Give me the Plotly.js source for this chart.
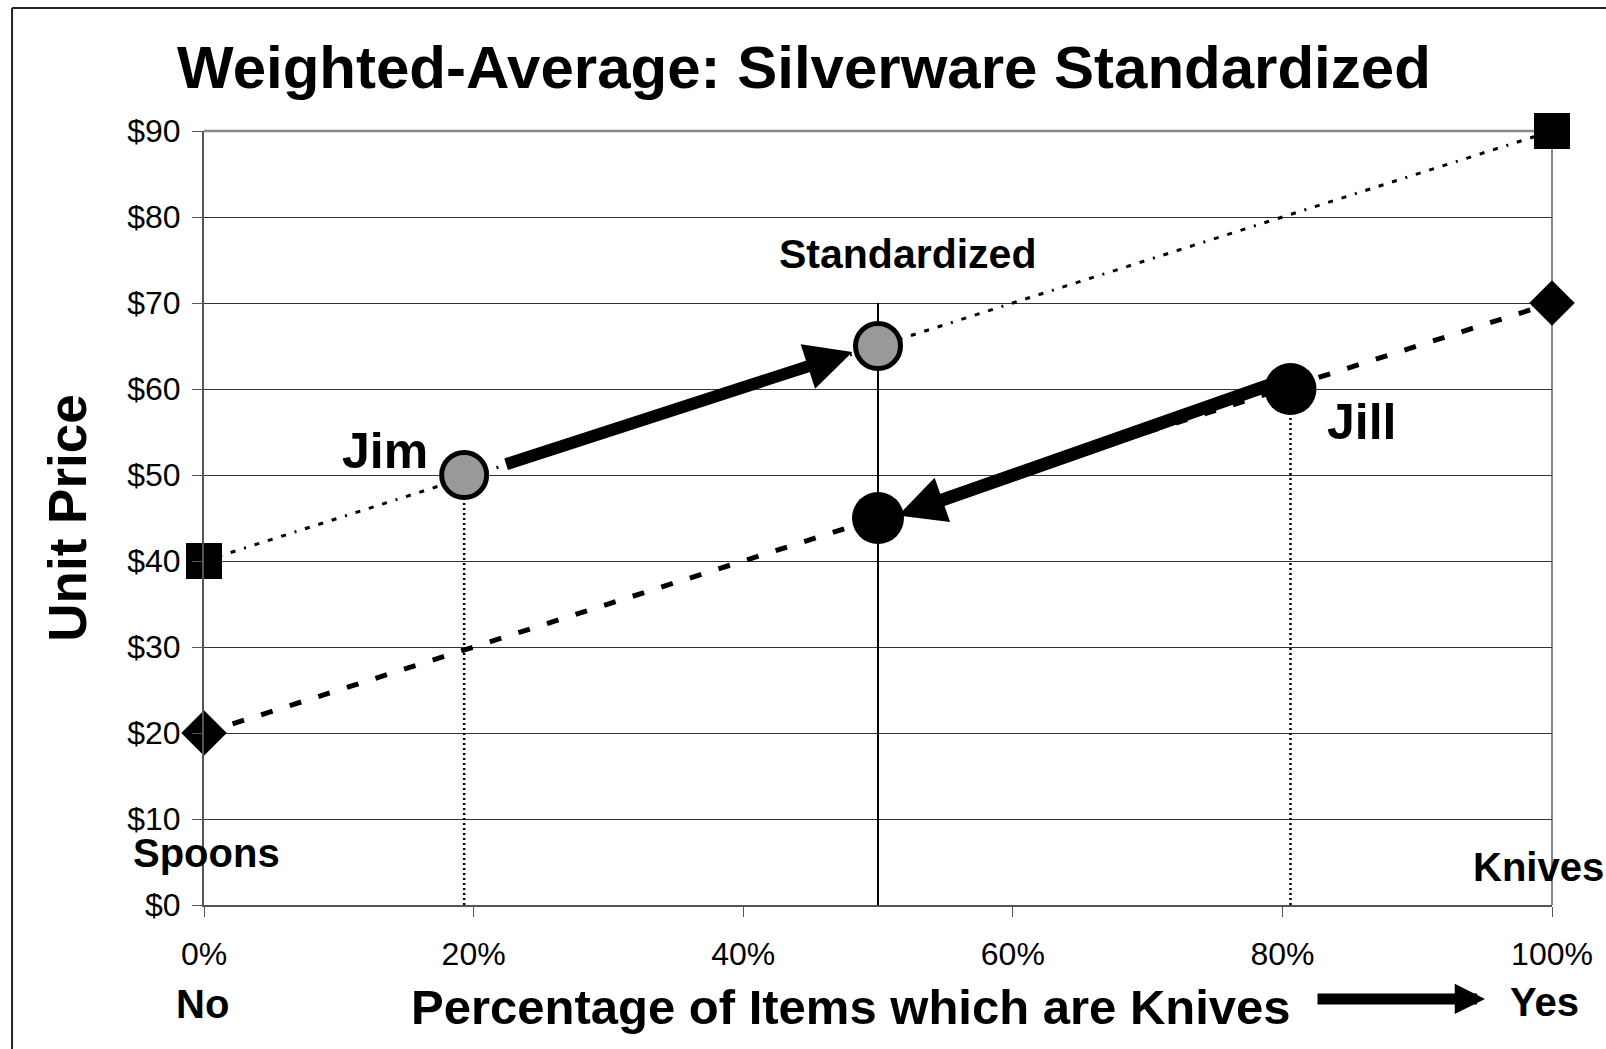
<!DOCTYPE html>
<html>
<head>
<meta charset="utf-8">
<script src="https://cdn.plot.ly/plotly-3.0.1.min.js"></script>
<style>html,body{margin:0;padding:0;background:#fff;}#chart{width:1606px;height:1049px;}</style>
</head>
<body>
<div id="chart"></div>
<script>
// ---- data ----
const endPct = [0, 1];                 // share of items that are knives at the two ends
const upperPrice = [40, 90];           // upper line (squares)
const lowerPrice = [20, 70];           // lower line (diamonds)
const personNames = ['Jim', 'Jill'];
const personPct = [0.193, 0.806];
const personPrice = [50, 60];
const standardPct = [0.5, 0.5];
const standardPrice = [65, 45];        // gray (upper) and black (lower) standardized points
const standardLine = [0, 70];
const xTickVals = [0, 0.2, 0.4, 0.6, 0.8, 1];
const xTickText = ['0%', '20%', '40%', '60%', '80%', '100%'];
const yTickVals = [0, 10, 20, 30, 40, 50, 60, 70, 80, 90];
const yTickText = ['$0', '$10', '$20', '$30', '$40', '$50', '$60', '$70', '$80', '$90'];

const FONT = 'Liberation Sans, Arial, Helvetica, sans-serif';

const traces = [
  // upper dotted line with squares
  {x: endPct, y: upperPrice, mode: 'lines+markers', cliponaxis: false, showlegend: false,
   line: {color: '#000', width: 3, dash: '5px,9px,5px,9px,5px,9px,2px,9px'},
   marker: {symbol: 'square', size: 36, color: '#000'}},
  // lower dashed line with diamonds
  {x: endPct, y: lowerPrice, mode: 'lines+markers', cliponaxis: false, showlegend: false,
   line: {color: '#000', width: 5, dash: '12px,18px'},
   marker: {symbol: 'diamond', size: 35, color: '#000'}},
  // standardized vertical line
  {x: standardPct, y: standardLine, mode: 'lines', showlegend: false,
   line: {color: '#000', width: 2}},
  // dotted drop lines for Jim and Jill
  {x: [personPct[0], personPct[0]], y: [0, personPrice[0]], mode: 'lines', showlegend: false,
   line: {color: '#000', width: 2.5, dash: '2px,3px'}},
  {x: [personPct[1], personPct[1]], y: [0, personPrice[1]], mode: 'lines', showlegend: false,
   line: {color: '#000', width: 2.5, dash: '2px,3px'}},
  // gray circles: Jim and standardized upper
  {x: [personPct[0], standardPct[0]], y: [personPrice[0], standardPrice[0]], mode: 'markers', showlegend: false,
   marker: {symbol: 'circle', size: 45, color: '#999999', line: {color: '#000', width: 5}}},
  // black circles: Jill and standardized lower
  {x: [personPct[1], standardPct[1]], y: [personPrice[1], standardPrice[1]], mode: 'markers', showlegend: false,
   marker: {symbol: 'circle', size: 52, color: '#000'}}
];

const textFont = (s) => ({family: FONT, size: s, color: '#000', weight: 'bold'});
const lbl = (x, y, xref, yref, text, size) => ({x: x, y: y, xref: xref, yref: yref, text: text, showarrow: false,
  xanchor: 'center', yanchor: 'middle', font: textFont(size)});

const annotations = [
  // arrows
  {x: 0.481, y: 64.3, ax: 0.223, ay: 51.2, xref: 'x', yref: 'y', axref: 'x', ayref: 'y', text: '',
   showarrow: true, arrowhead: 2, arrowsize: 0.78, arrowwidth: 12, arrowcolor: '#000'},
  {x: 0.515, y: 45.3, ax: 0.80, ay: 61.0, xref: 'x', yref: 'y', axref: 'x', ayref: 'y', text: '',
   showarrow: true, arrowhead: 2, arrowsize: 0.72, arrowwidth: 13, arrowcolor: '#000'},
  {x: 0.9503, y: -0.1214, ax: -169, ay: 0, xref: 'paper', yref: 'paper', text: '',
   showarrow: true, arrowhead: 2, arrowsize: 0.55, arrowwidth: 11, arrowcolor: '#000'},
  // labels
  lbl(0.522, 75.7, 'x', 'y', 'Standardized', 41),
  lbl(0.134, 52.8, 'x', 'y', personNames[0], 50),
  lbl(0.859, 56.2, 'x', 'y', personNames[1], 50),
  lbl(0.002, 6.05, 'x', 'y', 'Spoons', 40),
  lbl(0.990, 4.4, 'x', 'y', 'Knives', 40),
  lbl((202 - 204) / 1348, (905 - 1004) / 774, 'paper', 'paper', 'No', 40),
  lbl((1544 - 204) / 1348, (905 - 1002) / 774, 'paper', 'paper', 'Yes', 40),
  // x-axis title (placed left of the "Yes" arrow as in the reference)
  lbl((851 - 204) / 1348, (905 - 1007) / 774, 'paper', 'paper', 'Percentage of Items which are Knives', 49)
];

const shapes = [
  // outer frame (left and top)
  {type: 'line', xref: 'paper', yref: 'paper', x0: -0.1424, x1: -0.1424, y0: -0.3, y1: 1.1589, line: {color: '#222', width: 2}, layer: 'below'},
  {type: 'line', xref: 'paper', yref: 'paper', x0: -0.1424, x1: 1.1, y0: 1.1589, y1: 1.1589, line: {color: '#222', width: 2}, layer: 'below'},
  // plot-area border (top and right, gray)
  {type: 'line', xref: 'paper', yref: 'paper', x0: 0, x1: 1, y0: 1, y1: 1, line: {color: '#888', width: 2.5}, layer: 'below'},
  {type: 'line', xref: 'paper', yref: 'paper', x0: 1, x1: 1, y0: 0, y1: 1, line: {color: '#888', width: 2}, layer: 'below'}
];

const layout = {
  width: 1606, height: 1049,
  margin: {l: 204, r: 54, t: 131, b: 144, pad: 0},
  paper_bgcolor: '#fff', plot_bgcolor: '#fff',
  font: {family: FONT, color: '#000'},
  showlegend: false,
  title: {text: 'Weighted-Average: Silverware Standardized', font: {family: FONT, size: 60, weight: 'bold', color: '#000'},
          x: 0.5006, xanchor: 'center', xref: 'container', y: 0.936, yanchor: 'middle', yref: 'container'},
  xaxis: {range: [0, 1], tickvals: xTickVals, ticktext: xTickText, showgrid: false, zeroline: false,
          showline: true, linecolor: '#555', linewidth: 2, ticks: 'outside', ticklen: 10, tickcolor: '#555', tickwidth: 1,
          tickfont: {family: FONT, size: 32, color: '#000'}, fixedrange: true, automargin: false, ticklabelstandoff: 10},
  yaxis: {range: [0, 90], tickvals: yTickVals, ticktext: yTickText, showgrid: true, gridcolor: '#333', gridwidth: 1, zeroline: false,
          showline: true, linecolor: '#555', linewidth: 2, ticks: 'outside', ticklen: 10, tickcolor: '#555', tickwidth: 1,
          tickfont: {family: FONT, size: 32, color: '#000'}, fixedrange: true, automargin: false, ticklabelstandoff: 5,
          title: {text: 'Unit Price', font: {family: FONT, size: 53, weight: 'bold', color: '#000'}, standoff: 24}},
  annotations: annotations,
  shapes: shapes
};

Plotly.newPlot('chart', traces, layout, {staticPlot: true, displayModeBar: false});
</script>
</body>
</html>
